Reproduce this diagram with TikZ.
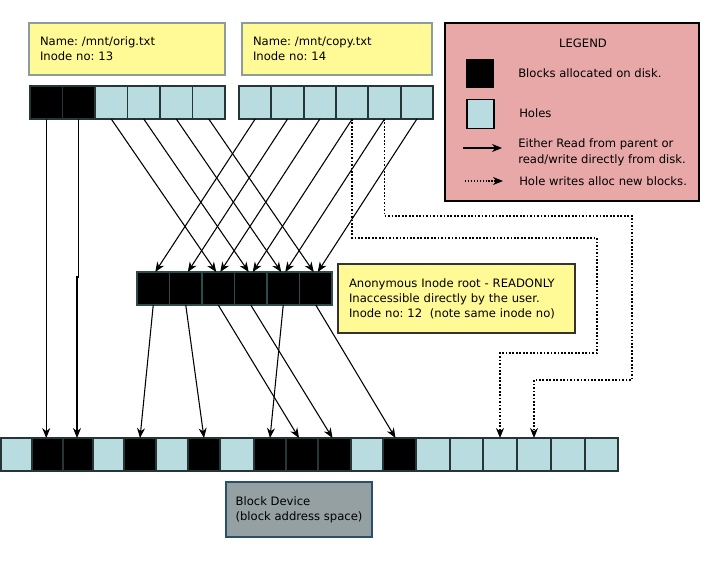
\documentclass[tikz,border=0pt]{standalone}
\usepackage{fontspec}
\setmainfont{DejaVu Sans}
\usetikzlibrary{arrows.meta,calc}
\definecolor{holefill}{RGB}{185,220,224}
\definecolor{blkedge}{RGB}{38,54,54}
\definecolor{noteyellow}{RGB}{255,250,150}
\definecolor{notegray}{RGB}{140,155,155}
\definecolor{legendpink}{RGB}{232,168,168}
\definecolor{devgray}{RGB}{149,160,163}
\definecolor{devedge}{RGB}{40,80,110}
\frenchspacing
\begin{document}
\begin{tikzpicture}[x=0.75pt,y=-0.75pt,
  every node/.style={font=\fontsize{8.7pt}{11.25pt}\selectfont\frenchspacing},
  cell/.style={draw=blkedge, line width=1.4pt, minimum height=33*0.75pt, inner sep=0pt, outer sep=0pt},
  blk/.style={cell, fill=black},
  hole/.style={cell, fill=holefill},
  arr/.style={-{Stealth[length=7.5pt,width=6pt]}, line width=0.8pt},
  darr/.style={-{Stealth[length=7.5pt,width=6pt]}, line width=1.3pt, dash pattern=on 1.3pt off 1.3pt},
  note/.style={draw=notegray, fill=noteyellow, line width=1.5pt, anchor=north west, align=left, inner ysep=0pt, outer sep=0pt},
  legsq/.style={draw=black, line width=1.3pt, inner sep=0pt},
  legtext/.style={anchor=west, inner sep=0pt, align=left}
]
\useasboundingbox (0,0) rectangle (702,561);

% notes
\node[note, minimum width=196*0.75pt, minimum height=52*0.75pt, text width=174*0.75pt, inner xsep=11*0.75pt] (orig) at (29,23) {Name: /mnt/orig.txt\\Inode no: 13};
\node[note, minimum width=190*0.75pt, minimum height=52*0.75pt, text width=168*0.75pt, inner xsep=11*0.75pt] (copy) at (242,23) {Name: /mnt/copy.txt\\Inode no: 14};
\node[note, draw=black!80, minimum width=237*0.75pt, minimum height=69*0.75pt, text width=215*0.75pt, inner xsep=11*0.75pt] (anon) at (338,264) {Anonymous Inode root - READONLY\\Inaccessible directly by the user.\\Inode no: 12\ \ (note same inode no)};
\node[note, draw=devedge, fill=devgray, minimum width=146*0.75pt, minimum height=55*0.75pt, inner xsep=9*0.75pt] (dev) at (226,482) {Block Device\\(block address space)};

% legend
\node[draw=black, fill=legendpink, line width=1.5pt, minimum width=254*0.75pt, minimum height=178*0.75pt, anchor=north west, inner sep=0pt] (legend) at (444,22) {};
\node (legtitle) at (583,43) {LEGEND};
\node[legsq, fill=black, minimum width=26*0.75pt, minimum height=27*0.75pt] (lblk) at (480,73.5) {};
\node[legsq, fill=holefill, minimum width=27*0.75pt, minimum height=29*0.75pt] (lhole) at (480.5,114) {};
\node[legtext] (t1) at (518,73) {Blocks allocated on disk.};
\node[legtext] (t2) at (519,113) {Holes};
\node[legtext, font=\fontsize{8.7pt}{12pt}\selectfont\frenchspacing] (t3) at (518,152.5) {Either Read from parent or\\read/write directly from disk.};
\node[legtext] (t4) at (519,181) {Hole writes alloc new blocks.};
\coordinate (la1) at (463,148);
\coordinate (la2) at (502,148);
\draw[arr] (la1) -- (la2);
\coordinate (lb1) at (465,181);
\coordinate (lb2) at (503,181);
\draw[darr, line width=1pt, dash pattern=on 1pt off 1.2pt] (lb1) -- (lb2);

% block rows
\foreach \i/\s in {0/blk,1/blk,2/hole,3/hole,4/hole,5/hole}
  \node[\s, minimum width=32.5*0.75pt] (o\i) at ({46.25+32.5*\i},102.5) {};
\foreach \i in {0,...,5}
  \node[hole, minimum width=32.33*0.75pt] (c\i) at ({255.2+32.33*\i},102.5) {};
\foreach \i in {0,...,5}
  \node[blk, draw={rgb,255:red,45;green,75;blue,75}, minimum width=32.5*0.75pt] (m\i) at ({153.25+32.5*\i},288.5) {};
\foreach \i/\l/\r/\s in {0/1/32/hole,1/32/63/blk,2/63/93/blk,3/93/124/hole,4/124/156/blk,5/156/188/hole,6/188/220/blk,7/220/254/hole,8/254/286/blk,9/286/318/blk,10/318/351/blk,11/351/383/hole,12/383/416/blk,13/416/450/hole,14/450/483/hole,15/483/517/hole,16/517/551/hole,17/551/585/hole,18/585/618/hole}
  \node[\s, minimum width={(\r-\l)*0.75pt}] (b\i) at ({(\l+\r)/2},454.5) {};

% direct reads
\draw[arr] (o0.south) -- (o0.south |- b1.north);
\coordinate (k1) at (77,277);
\draw[arr] (o1.south) |- (k1) -- (k1 |- b2.north);

% top to middle
\foreach \i in {2,...,5}
  \draw[arr] (o\i.south) -- ($(m\i.north)+(-2,0)$);
\foreach \i in {0,...,5}
  \draw[arr] (c\i.south) -- ($(m\i.north)+(2,0)$);

% middle to bottom
\draw[arr] (m0.south) -- (b4.north);
\draw[arr] (m1.south) -- (b6.north);
\draw[arr] (m2.south) -- ($(b9.north)+(-3,0)$);
\draw[arr] (m3.south) -- ($(b10.north)+(-2,0)$);
\draw[arr] (m4.south) -- (b8.north);
\draw[arr] (m5.south) -- ($(b12.north)+(-4,0)$);

% hole writes
\coordinate (h1) at (597,238);
\coordinate (h2) at (0,353);
\draw[darr] (c3.south) |- (h1) |- (b15.north |- h2) -- (b15.north);
\coordinate (h3) at (632,216);
\coordinate (h4) at (0,380);
\draw[darr] (c4.south) |- (h3) |- (b16.north |- h4) -- (b16.north);
\end{tikzpicture}
\end{document}
